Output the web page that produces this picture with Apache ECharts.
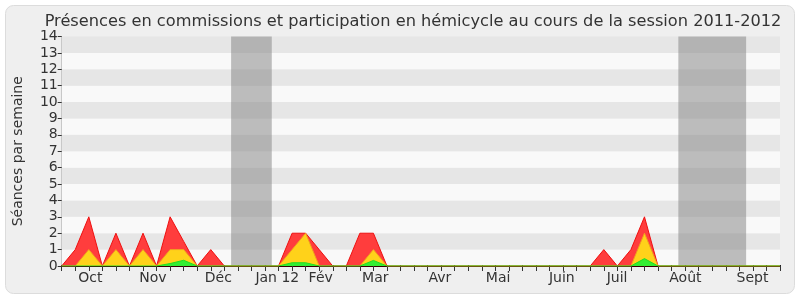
<!DOCTYPE html>
<html>
<head>
<meta charset="utf-8">
<script src="https://cdn.jsdelivr.net/npm/echarts@6/dist/echarts.min.js"></script>
<style>
html,body{margin:0;padding:0;background:#fff;}
#chart{width:800px;height:300px;}
</style>
</head>
<body>
<div id="chart"></div>
<script>
// weekly points, index 0..53
const weeks = Array.from({length: 54}, (_, i) => i);
const totalSeances = [0,1,3,0,2,0,2,0,3,1.5,0,1,0,0,0,0,0,2,2,1,0,0,2,2,0,0,0,0,0,0,0,0,0,0,0,0,0,0,0,0,1,0,1,3,0,0,0,0,0,0,0,0,0,0];
const hemicycle    = [0,0,1,0,1,0,1,0,1,1,0,0,0,0,0,0,0,1,2,0,0,0,0,1,0,0,0,0,0,0,0,0,0,0,0,0,0,0,0,0,0,0,0,2,0,0,0,0,0,0,0,0,0,0];
const commissions  = [0,0,0,0,0,0,0,0,0.15,0.35,0,0,0,0,0,0,0,0.2,0.2,0,0,0,0,0.34,0,0,0,0,0,0,0,0,0,0,0,0,0,0,0,0,0,0,0,0.45,0,0,0,0,0,0,0,0,0,0];
const monthLabels    = ['Oct','Nov','Déc','Jan 12','Fév','Mar','Avr','Mai','Juin','Juil','Août','Sept'];
const monthPositions = [2.11,6.73,11.56,15.91,19.11,23.14,27.9,32.2,36.9,40.98,46.02,50.97];
const vacations = [[12.5,15.5],[45.5,50.5]];
const yTicks = [0,14];

const font = 'DejaVu Sans';
const chart = echarts.init(document.getElementById('chart'), null, {renderer:'canvas'});
const pair = arr => arr.map((v,i)=>[weeks[i], v]);

chart.setOption({
  animation:false,
  backgroundColor:'#ffffff',
  graphic:[{type:'rect', z:-100, shape:{x:5.5,y:5.5,width:789,height:288,r:8}, style:{fill:'#efefef', stroke:'#dcdcdc', lineWidth:1}}],
  title:{text:'Présences en commissions et participation en hémicycle au cours de la session 2011-2012',
    left:408, top:9, textAlign:'center',
    textStyle:{fontFamily:font, fontSize:16.2, fontWeight:'normal', color:'#333'}},
  grid:{left:61.7, right:20, top:36.5, bottom:34, containLabel:false},
  xAxis:[{
    type:'value', min:0, max:53, interval:1, position:'bottom',
    axisLine:{show:true, onZero:false, lineStyle:{color:'#330000', width:1}},
    axisTick:{show:true, length:5, lineStyle:{color:'#333'}},
    axisLabel:{show:true, customValues:monthPositions, hideOverlap:false,
      formatter:v=>{const k=monthPositions.indexOf(v); return k>=0?monthLabels[k]:'';},
      fontFamily:font, fontSize:14, color:'#333', margin:5},
    splitLine:{show:false}
  },{
    type:'value', min:0, max:53, interval:1, position:'top',
    axisLine:{show:false},
    axisTick:{show:true, inside:false, length:1, lineStyle:{color:'#222'}},
    axisLabel:{show:false}, splitLine:{show:false}
  }],
  yAxis:[{
    type:'value', min:yTicks[0], max:yTicks[1], interval:1,
    name:'Séances par semaine', nameLocation:'middle', nameGap:36, nameRotate:90,
    nameTextStyle:{fontFamily:font, fontSize:14, color:'#333'},
    axisLine:{show:true, lineStyle:{color:'#333'}},
    axisTick:{show:true, length:4, lineStyle:{color:'#333'}},
    axisLabel:{fontFamily:font, fontSize:14, color:'#333', margin:4},
    splitLine:{show:false},
    splitArea:{show:true, areaStyle:{color:['#f9f9f9','#e6e6e6']}}
  },{
    type:'value', min:yTicks[0], max:yTicks[1], position:'right',
    axisLine:{show:true, lineStyle:{color:'#c8c8c8'}},
    axisTick:{show:false}, axisLabel:{show:false}, splitLine:{show:false}
  }],
  series:[
    {type:'line', data:[], silent:true, z:1,
     markArea:{silent:true, itemStyle:{color:'rgba(128,128,128,0.5)'},
       data:vacations.map(v=>[{xAxis:v[0]},{xAxis:v[1]}])}},
    {name:'total', type:'line', data:pair(totalSeances), symbol:'none', z:2,
     lineStyle:{color:'#ee1111', width:1}, areaStyle:{color:'#ff3d3d', opacity:1}},
    {name:'hémicycle', type:'line', data:pair(hemicycle), symbol:'none', z:3,
     lineStyle:{color:'#f0a020', width:1}, areaStyle:{color:'#ffd21a', opacity:1}},
    {name:'commissions', type:'line', data:pair(commissions), symbol:'none', z:4,
     lineStyle:{color:'#22dd22', width:1}, areaStyle:{color:'#33ee33', opacity:1}}
  ]
});
</script>
</body>
</html>
